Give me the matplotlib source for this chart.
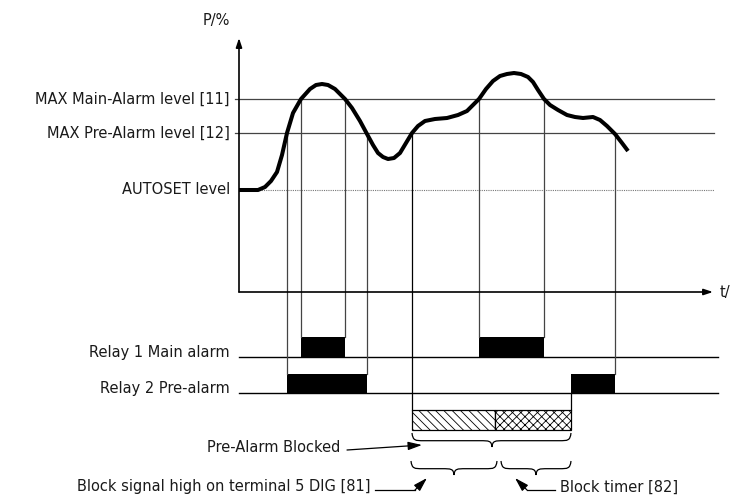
import matplotlib
matplotlib.use("Agg")
import matplotlib.pyplot as plt
from matplotlib.path import Path
from matplotlib.patches import PathPatch, Rectangle

plt.rcParams['font.family'] = ['DejaVu Sans']
plt.rcParams['hatch.linewidth'] = 0.6

# ---- data (time units, P in %) ----
curve_t = [0.0, 1.1, 1.9, 2.6, 3.2, 3.8, 4.3, 4.8, 5.4, 6.2, 7.1, 7.7, 8.3, 8.9, 9.6,
           10.6, 11.3, 12.1, 12.8, 13.4, 13.9, 14.4, 14.9, 15.5, 16.1, 16.7, 17.3,
           17.9, 18.6, 19.6, 20.8, 21.9, 22.8, 23.4, 24.0, 24.7, 25.4, 26.1, 26.8,
           27.5, 28.2, 28.9, 29.4, 29.9, 30.5, 31.1, 31.9, 32.8, 33.6, 34.4, 35.4,
           36.1, 36.8, 37.6, 38.3, 38.9]
curve_p = [51, 51, 51, 52.5, 55.5, 60, 68.5, 79.5, 89.5, 96.5, 101.5, 103.5, 104,
           103.5, 101.5, 96.5, 92, 85.5, 79, 73.5, 69.5, 67.5, 66.5, 67, 69.5, 74.5,
           79.5, 83, 85.5, 86.5, 87, 88.5, 90.5, 93.5, 96.5, 101.5, 105.5, 108, 109,
           109.5, 109, 107.5, 105, 101, 96.5, 93.5, 91, 88.5, 87.5, 87, 87.5, 86,
           83, 79, 74.5, 70.5]

main_level = 96.5
pre_level = 79.5
autoset_level = 51

level_labels = ["MAX Main-Alarm level [11]", "MAX Pre-Alarm level [12]", "AUTOSET level"]
relay_labels = ["Relay 1 Main alarm", "Relay 2 Pre-alarm"]

relay1_on = [(6.2, 10.6), (24.0, 30.5)]
relay2_on = [(4.8, 12.8), (33.2, 37.6)]

block_start = 17.3
block_signal_end = 25.6
block_timer_end = 33.2

# ---- layout (P-axis units below zero) ----
t_end = 47.5
r1_base, r1_top = -32.5, -22.5
r2_base, r2_top = -50.5, -41.0
hb_top, hb_bot = -59.0, -69.0
lc = '#444444'
tc = '#1a1a1a'

fig = plt.figure(figsize=(7.34, 4.95), dpi=100)
ax = fig.add_axes([0, 0, 1, 1])
ax.set_xlim(-23.9, 49.5)
ax.set_ylim(-101.5, 146)
ax.axis('off')

fs = 10.5

# axes with arrows
axprops = dict(arrowstyle='-|>,head_length=0.6,head_width=0.2', lw=1.2, color='black',
               mutation_scale=9, shrinkA=0, shrinkB=0)
ax.annotate('', xy=(0, 127), xytext=(0, 0), arrowprops=axprops)
ax.annotate('', xy=(47.4, 0), xytext=(0, 0), arrowprops=axprops)
ax.text(-2.3, 135.5, "P/%", ha='center', va='center', fontsize=fs, color=tc)
ax.text(48.1, 0, "t/", ha='left', va='center', fontsize=fs, color=tc)

# level lines
ax.plot([-0.4, t_end], [main_level, main_level], color=lc, lw=0.9)
ax.plot([-0.4, t_end], [pre_level, pre_level], color=lc, lw=0.9)
ax.plot([0, t_end], [autoset_level, autoset_level], color='#777777', lw=0.8,
        linestyle=(0, (1, 1)))
for lab, lev in zip(level_labels, [main_level, pre_level, autoset_level]):
    ax.text(-0.9, lev, lab, ha='right', va='center', fontsize=fs, color=tc)

# curve
ax.plot(curve_t, curve_p, color='black', lw=2.9, solid_capstyle='butt', zorder=5)

# relay baselines
ax.plot([0, 47.9], [r1_base, r1_base], color='black', lw=1.0)
ax.plot([0, 47.9], [r2_base, r2_base], color='black', lw=1.0)
ax.text(-0.9, r1_base + 2, relay_labels[0], ha='right', va='center', fontsize=fs, color=tc)
ax.text(-0.9, r2_base + 2.5, relay_labels[1], ha='right', va='center', fontsize=fs, color=tc)

# vertical guide lines
for (a, b) in relay1_on:
    for t in (a, b):
        ax.plot([t, t], [main_level, r1_top], color=lc, lw=0.9)
    ax.add_patch(Rectangle((a, r1_base), b - a, r1_top - r1_base, color='black', lw=0))
for i, (a, b) in enumerate(relay2_on):
    ax.add_patch(Rectangle((a, r2_base), b - a, r2_top - r2_base, color='black', lw=0))
for t in (relay2_on[0][0], relay2_on[0][1], relay2_on[1][1]):
    ax.plot([t, t], [pre_level, r2_top], color=lc, lw=0.9)
ax.plot([block_start, block_start], [pre_level, hb_top], color='black', lw=0.9)
ax.plot([block_timer_end, block_timer_end], [r2_base, hb_top], color='black', lw=0.9)

# hatched block box
ax.add_patch(Rectangle((block_start, hb_bot), block_signal_end - block_start, hb_top - hb_bot,
                       facecolor='white', edgecolor='black', hatch='\\\\\\\\', lw=0.9))
ax.add_patch(Rectangle((block_signal_end, hb_bot), block_timer_end - block_signal_end,
                       hb_top - hb_bot, facecolor='white', edgecolor='black',
                       hatch='xxxx', lw=0.9))


def brace(x0, x1, ytop, depth, xm=None, r=1.2):
    if xm is None:
        xm = (x0 + x1) / 2
    h = depth * 0.55
    verts = [(x0, ytop), (x0 + 0.1, ytop - h), (x0 + 0.3, ytop - h), (x0 + r, ytop - h),
             (xm - r, ytop - h),
             (xm - 0.3, ytop - h), (xm - 0.05, ytop - h), (xm, ytop - depth),
             (xm + 0.05, ytop - h), (xm + 0.3, ytop - h), (xm + r, ytop - h),
             (x1 - r, ytop - h),
             (x1 - 0.3, ytop - h), (x1 - 0.1, ytop - h), (x1, ytop)]
    codes = [Path.MOVETO, Path.CURVE4, Path.CURVE4, Path.CURVE4, Path.LINETO,
             Path.CURVE4, Path.CURVE4, Path.CURVE4,
             Path.CURVE4, Path.CURVE4, Path.CURVE4, Path.LINETO,
             Path.CURVE4, Path.CURVE4, Path.CURVE4]
    ax.add_patch(PathPatch(Path(verts, codes), facecolor='none', edgecolor='black', lw=0.9))


brace(block_start, block_timer_end, -70.5, 7, xm=25.3)
brace(block_start - 0.1, block_signal_end + 0.2, -84.5, 7)
brace(block_signal_end + 0.6, block_timer_end, -84.5, 7)

aprops = dict(arrowstyle='-|>,head_length=0.6,head_width=0.18', lw=0.9, color='black',
              mutation_scale=14, shrinkA=0, shrinkB=0)
# Pre-Alarm Blocked
ax.text(10.1, -77.5, "Pre-Alarm Blocked", ha='right', va='center', fontsize=fs, color=tc)
ax.annotate('', xy=(18.3, -76.5), xytext=(10.8, -79), arrowprops=aprops)
# Block signal
ax.text(13.2, -97.5, "Block signal high on terminal 5 DIG [81]", ha='right', va='center',
        fontsize=fs, color=tc)
ax.plot([13.6, 17.6], [-99, -99], color='black', lw=0.9)
ax.annotate('', xy=(18.8, -93), xytext=(17.6, -99), arrowprops=aprops)
# Block timer
ax.text(32.1, -97.5, "Block timer [82]", ha='left', va='center', fontsize=fs, color=tc)
ax.plot([28.8, 31.6], [-99, -99], color='black', lw=0.9)
ax.annotate('', xy=(27.6, -93), xytext=(28.8, -99), arrowprops=aprops)

fig.savefig("out.png", dpi=100, facecolor='white')
